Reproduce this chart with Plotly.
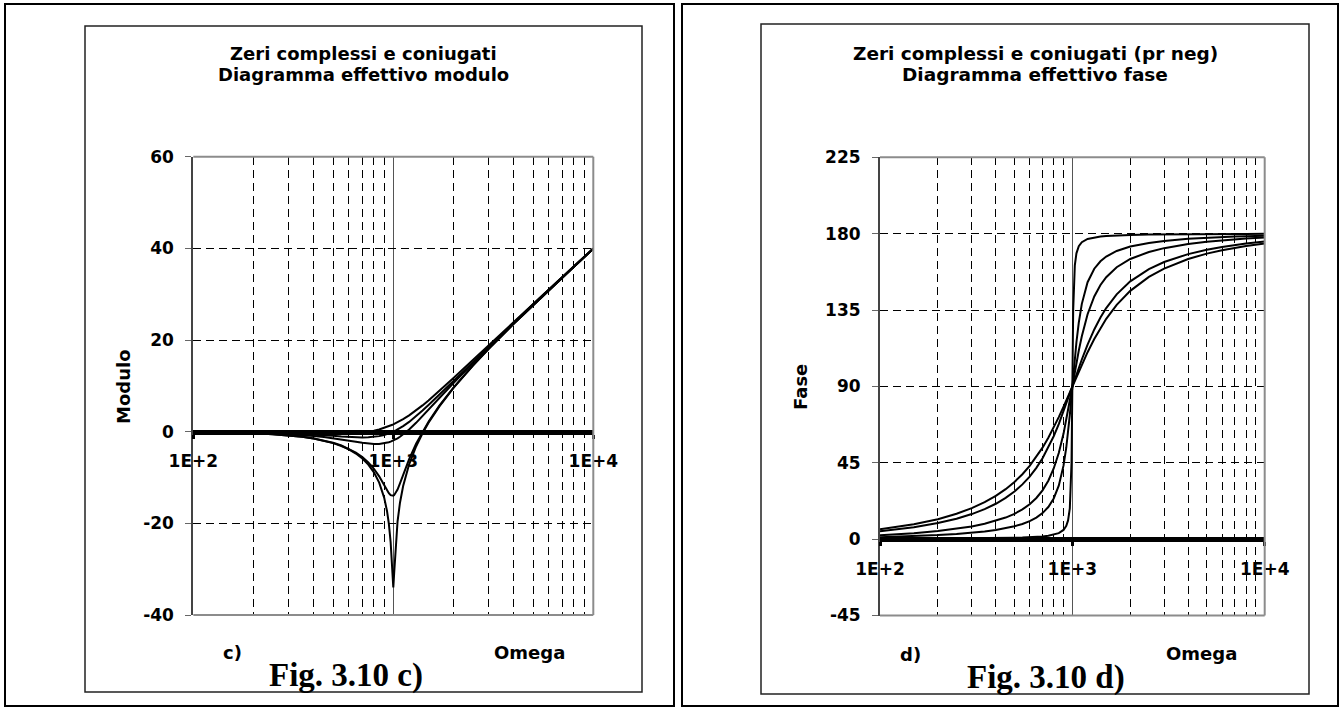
import plotly.graph_objects as go

W, H = 1344, 710

# ---------------- data ----------------
omega = [100, 125, 150, 200, 250, 300, 350, 400, 450, 500, 550, 600, 650, 700, 750,
         800, 850, 900, 930, 950, 970, 990, 1000, 1010, 1030, 1050, 1080, 1120, 1200,
         1300, 1400, 1500, 1700, 2000, 2500, 3000, 4000, 5000, 6000, 7000, 8000, 10000]

# Modulo (dB) for several damping values
mod_z001 = [-0.09, -0.14, -0.20, -0.35, -0.56, -0.82, -1.13, -1.51, -1.96, -2.50, -3.13, -3.87, -4.77, -5.85,
            -7.18, -8.87, -11.12, -14.39, -17.30, -20.06, -24.12, -31.04, -33.98, -30.90, -23.84, -19.61,
            -15.50, -11.86, -7.12, -3.22, -0.35, 1.94, 5.53, 9.54, 14.40, 18.06, 23.52, 27.60, 30.88,
            33.62, 35.99, 39.91]
mod_z01 = [-0.09, -0.13, -0.19, -0.35, -0.55, -0.80, -1.11, -1.48, -1.91, -2.42, -3.02, -3.73, -4.55, -5.53,
           -6.70, -8.09, -9.75, -11.64, -12.77, -13.41, -13.86, -14.02, -13.98, -13.85, -13.36, -12.63,
           -11.29, -9.40, -6.00, -2.65, 0.00, 2.18, 5.67, 9.62, 14.44, 18.09, 23.53, 27.61, 30.89,
           33.63, 35.99, 39.91]
mod_z04 = [-0.06, -0.09, -0.13, -0.24, -0.37, -0.53, -0.71, -0.93, -1.16, -1.41, -1.67, -1.94, -2.19, -2.41,
           -2.59, -2.68, -2.68, -2.56, -2.43, -2.31, -2.18, -2.02, -1.94, -1.85, -1.66, -1.45, -1.11,
           -0.62, 0.47, 1.93, 3.38, 4.78, 7.34, 10.63, 14.99, 18.44, 23.72, 27.72, 30.96, 33.68, 36.03, 39.94]
mod_z05 = [-0.04, -0.07, -0.10, -0.17, -0.26, -0.37, -0.49, -0.63, -0.77, -0.90, -1.03, -1.14, -1.21, -1.25,
           -1.23, -1.14, -0.97, -0.73, -0.54, -0.40, -0.25, -0.09, 0.00, 0.09, 0.27, 0.47, 0.77, 1.20,
           2.13, 3.36, 4.60, 5.81, 8.10, 11.14, 15.29, 18.63, 23.82, 27.79, 31.01, 33.72, 36.06, 39.96]
mod_z06 = [-0.02, -0.04, -0.05, -0.09, -0.14, -0.19, -0.24, -0.29, -0.33, -0.35, -0.35, -0.32, -0.26, -0.15,
           0.01, 0.22, 0.48, 0.80, 1.02, 1.17, 1.33, 1.50, 1.58, 1.67, 1.85, 2.04, 2.32, 2.72, 3.55,
           4.64, 5.73, 6.81, 8.88, 11.69, 15.63, 18.86, 23.95, 27.87, 31.06, 33.76, 36.09, 39.98]

# Fase (deg) for several damping values
ph_z001 = [0.12, 0.15, 0.18, 0.24, 0.31, 0.38, 0.46, 0.55, 0.65, 0.76, 0.90, 1.07, 1.29, 1.57, 1.96, 2.55,
           3.51, 5.41, 7.84, 11.03, 18.17, 44.86, 90.0, 134.86, 161.31, 168.42, 172.60, 174.97, 176.88,
           177.84, 178.33, 178.63, 178.97, 179.24, 179.45, 179.57, 179.69, 179.76, 179.80, 179.83, 179.85, 179.88]
ph_z01 = [1.16, 1.46, 1.76, 2.39, 3.05, 3.77, 4.56, 5.44, 6.44, 7.59, 8.96, 10.62, 12.69, 15.35, 18.92, 23.96,
          31.49, 43.45, 54.00, 62.83, 73.06, 84.26, 90.0, 95.68, 106.47, 116.02, 127.61, 138.64, 151.39,
          159.35, 163.74, 166.50, 169.80, 172.41, 174.56, 175.71, 176.95, 177.61, 178.04, 178.33, 178.55, 178.84]
ph_z02 = [2.31, 2.91, 3.51, 4.76, 6.09, 7.51, 9.07, 10.78, 12.72, 14.93, 17.51, 20.56, 24.24, 28.77, 34.44,
          41.63, 50.78, 62.18, 70.04, 75.61, 81.34, 87.12, 90.0, 92.85, 98.41, 103.71, 111.07, 119.59, 132.51,
          143.00, 149.74, 154.36, 160.21, 165.07, 169.22, 171.47, 173.91, 175.24, 176.08, 176.66, 177.09, 177.69]
ph_z04 = [4.62, 5.80, 7.00, 9.46, 12.04, 14.77, 17.70, 20.85, 24.30, 28.07, 32.25, 36.87, 42.00, 47.67, 53.90,
          60.64, 67.80, 75.22, 79.71, 82.69, 85.64, 88.56, 90.0, 91.42, 94.23, 96.96, 100.90, 105.85, 114.62,
          123.56, 130.60, 136.17, 144.26, 151.93, 159.15, 163.30, 167.96, 170.54, 172.19, 173.35, 174.20, 175.38]
ph_z05 = [5.77, 7.24, 8.72, 11.77, 14.93, 18.25, 21.75, 25.46, 29.43, 33.69, 38.26, 43.15, 48.38, 53.92, 59.74,
          65.77, 71.92, 78.08, 81.73, 84.14, 86.51, 88.85, 90.0, 91.14, 93.38, 95.58, 98.76, 102.80, 110.14,
          117.96, 124.44, 129.81, 138.03, 146.31, 154.54, 159.44, 165.07, 168.23, 170.27, 171.70, 172.76, 174.23]

mod_series = [mod_z001, mod_z01, mod_z04, mod_z05, mod_z06]
ph_series = [ph_z001, ph_z01, ph_z02, ph_z04, ph_z05]

x_tickvals = [100, 1000, 10000]
x_ticktext = ["1E+2", "1E+3", "1E+4"]
x_minor = [200, 300, 400, 500, 600, 700, 800, 900, 2000, 3000, 4000, 5000, 6000, 7000, 8000, 9000]
mod_ticks = [-40, -20, 0, 20, 40, 60]
mod_ticktext = ["-40", "-20", "0", "20", "40", "60"]
ph_ticks = [-45, 0, 45, 90, 135, 180, 225]
ph_ticktext = ["-45", "0", "45", "90", "135", "180", "225"]

# ---------------- helpers ----------------
def fx(px):
    return px / W

def fy(py):
    return 1 - py / H

SANS = "DejaVu Sans"
SERIF = "Liberation Serif"

fig = go.Figure()
for ys in mod_series:
    fig.add_trace(go.Scatter(x=omega, y=ys, xaxis="x", yaxis="y", mode="lines",
                             line=dict(color="black", width=2), showlegend=False, hoverinfo="skip"))
for ys in ph_series:
    fig.add_trace(go.Scatter(x=omega, y=ys, xaxis="x2", yaxis="y2", mode="lines",
                             line=dict(color="black", width=2), showlegend=False, hoverinfo="skip"))

yd1 = [fy(615.0), fy(156.7)]
yd2 = [fy(615.5), fy(157.3)]
xd1 = [fx(193.3), fx(593.3)]
xd2 = [fx(880.0), fx(1264.7)]
yr1 = [-40, 60]
yr2 = [-45, 225]

def zero_pos(dom, rng):
    return dom[0] + (0 - rng[0]) / (rng[1] - rng[0]) * (dom[1] - dom[0])

tickfont = dict(family=SANS, size=17, color="black", weight="bold")

def xaxis_cfg(dom, ydom, yrng):
    return dict(type="log", domain=dom, range=[2, 4], anchor="free", position=zero_pos(ydom, yrng),
                automargin=False,
                showline=True, linewidth=5, linecolor="black", ticks="outside", ticklen=4,
                tickwidth=3, tickcolor="black", tickmode="array", tickvals=x_tickvals,
                ticktext=x_ticktext, tickfont=tickfont, ticklabelstandoff=8,
                showgrid=True, gridcolor="#555555", gridwidth=1, zeroline=False,
                minor=dict(tickmode="array", tickvals=x_minor, showgrid=True, gridcolor="black",
                           gridwidth=1, griddash="8px,5px", ticks=""),
                layer="above traces", fixedrange=True)

def yaxis_cfg(dom, rng, tv, tt, anchor):
    return dict(domain=dom, range=rng, anchor=anchor, automargin=False,
                tickmode="array", tickvals=tv, ticktext=tt,
                ticks="outside", ticklen=6, tickwidth=1, tickcolor="#666666",
                showline=True, linecolor="#444444", linewidth=2,
                showgrid=True, gridcolor="black", gridwidth=1, griddash="8px,5px",
                zeroline=False, tickfont=tickfont, ticklabelstandoff=8, fixedrange=True)

fig.update_layout(
    width=W, height=H, margin=dict(l=0, r=0, t=0, b=0, pad=0, autoexpand=False),
    paper_bgcolor="white", plot_bgcolor="white", showlegend=False,
    xaxis=xaxis_cfg(xd1, yd1, yr1),
    yaxis=yaxis_cfg(yd1, yr1, mod_ticks, mod_ticktext, "x"),
    xaxis2=xaxis_cfg(xd2, yd2, yr2),
    yaxis2=yaxis_cfg(yd2, yr2, ph_ticks, ph_ticktext, "x2"),
)

shapes = []
# plot frames (top, right, bottom) in gray
for xr, yr in (("x", "y"), ("x2", "y2")):
    for (x0, y0, x1, y1) in ((0, 1, 1, 1), (1, 0, 1, 1), (0, 0, 1, 0)):
        shapes.append(dict(type="line", xref=xr + " domain", yref=yr + " domain",
                           x0=x0, y0=y0, x1=x1, y1=y1, line=dict(color="#8c8c8c", width=2), layer="above"))
# inner chart boxes
for (l, t, r, b) in ((85, 26, 642, 692), (761, 24, 1309, 694)):
    shapes.append(dict(type="rect", xref="paper", yref="paper", x0=fx(l), x1=fx(r), y0=fy(b), y1=fy(t),
                       line=dict(color="#222222", width=1.5), layer="above"))
# outer page boxes
for (l, t, r, b) in ((5, 4, 674, 706), (682, 4, 1338, 706)):
    shapes.append(dict(type="rect", xref="paper", yref="paper", x0=fx(l), x1=fx(r), y0=fy(b), y1=fy(t),
                       line=dict(color="black", width=2), layer="above"))
fig.update_layout(shapes=shapes)

def ann(text, x, y, size=18, family=SANS, angle=0, weight="bold"):
    return dict(text=text, x=fx(x), y=fy(y), xref="paper", yref="paper", showarrow=False,
                xanchor="center", yanchor="middle", textangle=angle,
                font=dict(family=family, size=size, color="black", weight=weight))

annotations = [
    ann("Zeri complessi e coniugati", 363, 53),
    ann("Diagramma effettivo modulo", 363, 75),
    ann("Zeri complessi e coniugati (pr neg)", 1035, 53, size=18.5),
    ann("Diagramma effettivo fase", 1035, 75, size=18.5),
    ann("Modulo", 123, 386, angle=-90),
    ann("Fase", 800, 387, angle=-90),
    ann("c)", 232, 652),
    ann("Omega", 529, 652),
    ann("d)", 910, 654),
    ann("Omega", 1201, 653),
    ann("Fig. 3.10 c)", 346, 675, size=33, family=SERIF),
    ann("Fig. 3.10 d)", 1046, 677, size=33, family=SERIF),
]
fig.update_layout(annotations=annotations)

fig.write_html("out.html", config={"displayModeBar": False},
               post_script="document.body.style.margin='0px';document.body.style.overflow='hidden';")
